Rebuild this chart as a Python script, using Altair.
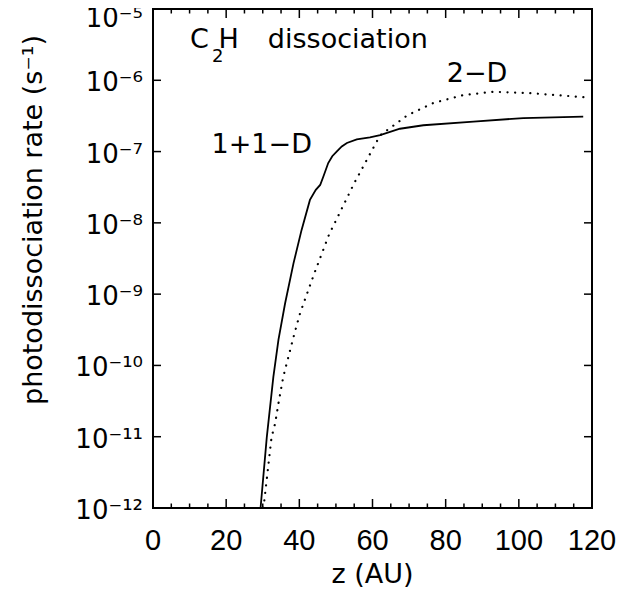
import altair as alt
import pandas as pd

# 1+1-D curve (solid)
z_11d = [29.4, 31.1, 32.9, 34.3, 36.1, 38.4, 40.6, 42.9, 44.5, 45.7, 46.6, 47.9,
         49.0, 50.2, 51.6, 53.0, 55.7, 59.3, 62.1, 67.5, 73.9, 87.6, 101.2, 117.6]
rate_11d = [1.0e-12, 9.8e-12, 6.9e-11, 2.3e-10, 7.4e-10, 2.7e-9, 7.9e-9, 2.1e-8,
            2.9e-8, 3.4e-8, 4.5e-8, 6.9e-8, 8.6e-8, 1.0e-7, 1.18e-7, 1.32e-7,
            1.48e-7, 1.58e-7, 1.70e-7, 2.09e-7, 2.34e-7, 2.63e-7, 2.95e-7, 3.09e-7]

# 2-D curve (dotted)
z_2d = [30.2, 32.4, 33.4, 34.3, 35.6, 38.4, 40.2, 44.0, 48.1, 55.0, 62.1, 66.6,
        69.4, 76.6, 84.8, 93.0, 103.1, 118.6]
rate_2d = [1.0e-12, 9.8e-12, 1.55e-11, 2.95e-11, 6.9e-11, 2.5e-10, 5.4e-10, 1.9e-9,
           6.8e-9, 3.6e-8, 1.70e-7, 2.5e-7, 3.2e-7, 4.8e-7, 6.2e-7, 6.9e-7,
           6.6e-7, 5.75e-7]

x_major = [0, 20, 40, 60, 80, 100, 120]
x_major_labels = ["0", "20", "40", "60", "80", "100", "120"]
x_minor = [v for v in range(0, 121, 5) if v % 20 != 0]
y_ticks = [1e-5, 1e-6, 1e-7, 1e-8, 1e-9, 1e-10, 1e-11, 1e-12]
y_tick_labels = ["10⁻⁵", "10⁻⁶", "10⁻⁷", "10⁻⁸", "10⁻⁹", "10⁻¹⁰", "10⁻¹¹", "10⁻¹²"]
x_title = "z (AU)"
y_title = "photodissociation rate (s⁻¹)"

# annotations (data coordinates)
ann_text = ["C", "H", "dissociation", "1+1−D", "2−D"]
ann_z = [10.1, 17.9, 31.4, 16.0, 80.3]
ann_rate = [2.8e-6, 2.8e-6, 2.8e-6, 9.5e-8, 9.5e-7]
sub_text = ["2"]
sub_z = [16.1]
sub_rate = [1.8e-6]

W, H = 439, 499
TXT = "DejaVu Sans"
NUM = "Liberation Sans"

xs = alt.Scale(domain=[0, 120], nice=False, zero=False)
ys = alt.Scale(type="log", domain=[1e-12, 1e-5], nice=False)


def X(f):
    return alt.X(f, scale=xs, axis=None)


def Y(f):
    return alt.Y(f, scale=ys, axis=None)


df1 = pd.DataFrame({"z": z_11d, "rate": rate_11d})
df2 = pd.DataFrame({"z": z_2d, "rate": rate_2d})

solid = alt.Chart(df1).mark_line(color="black", strokeWidth=1.8, clip=True).encode(
    x=X("z:Q"), y=Y("rate:Q"))

dotted = alt.Chart(df2).mark_line(color="black", strokeWidth=2.2, strokeDash=[0.1, 7.5],
                                  strokeCap="round", clip=True).encode(
    x=X("z:Q"), y=Y("rate:Q"))


def xticks(vals, length):
    d = pd.DataFrame({"v": vals})
    b = alt.Chart(d).mark_tick(color="black", thickness=1.5, size=length,
                               orient="vertical", opacity=1).encode(
        x=X("v:Q"), y=alt.value(H - length / 2))
    t = alt.Chart(d).mark_tick(color="black", thickness=1.5, size=length,
                               orient="vertical", opacity=1).encode(
        x=X("v:Q"), y=alt.value(length / 2))
    return b + t


yd = pd.DataFrame({"v": y_ticks, "lab": y_tick_labels})
ytl = alt.Chart(yd).mark_tick(color="black", thickness=1.5, size=8,
                              orient="horizontal", opacity=1).encode(
    y=Y("v:Q"), x=alt.value(4))
ytr = alt.Chart(yd).mark_tick(color="black", thickness=1.5, size=8,
                              orient="horizontal", opacity=1).encode(
    y=Y("v:Q"), x=alt.value(W - 4))

# tick labels
xlab = alt.Chart(pd.DataFrame({"v": x_major, "lab": x_major_labels})).mark_text(
    font=NUM, fontSize=29, color="black", align="center", baseline="top").encode(
    x=X("v:Q"), y=alt.value(H + 19), text="lab:N")
ylab = alt.Chart(yd.iloc[1:]).mark_text(
    font=TXT, fontSize=26, color="black", align="right", baseline="middle",
    dy=3).encode(x=alt.value(-10), y=Y("v:Q"), text="lab:N")
ylab_top = alt.Chart(yd.iloc[:1]).mark_text(
    font=TXT, fontSize=26, color="black", align="right", baseline="middle",
    dy=10).encode(x=alt.value(-10), y=Y("v:Q"), text="lab:N")

# axis titles
xtit = alt.Chart(pd.DataFrame({"t": [x_title]})).mark_text(
    font=TXT, fontSize=27, color="black", align="center", baseline="alphabetic").encode(
    x=alt.value(W / 2), y=alt.value(H + 75), text="t:N")
ytit = alt.Chart(pd.DataFrame({"t": [y_title]})).mark_text(
    font=TXT, fontSize=27, color="black", align="center", baseline="alphabetic",
    angle=270).encode(x=alt.value(-111), y=alt.value(211), text="t:N")

ann = alt.Chart(pd.DataFrame({"z": ann_z, "rate": ann_rate, "t": ann_text})).mark_text(
    font=TXT, fontSize=27, color="black", align="left", baseline="alphabetic").encode(
    x=X("z:Q"), y=Y("rate:Q"), text="t:N")
sub = alt.Chart(pd.DataFrame({"z": sub_z, "rate": sub_rate, "t": sub_text})).mark_text(
    font=TXT, fontSize=18, color="black", align="left", baseline="alphabetic").encode(
    x=X("z:Q"), y=Y("rate:Q"), text="t:N")

chart = alt.layer(
    solid, dotted, xticks(x_major, 9), xticks(x_minor, 4.5), ytl, ytr,
    xlab, ylab, ylab_top, xtit, ytit, ann, sub
).properties(
    width=W, height=H,
    autosize=alt.AutoSizeParams(type="none"),
    padding={"left": 145, "top": 1, "right": 26, "bottom": 80},
    background="white",
).configure_view(stroke="black", strokeWidth=2)

chart.save("out.html", embed_options={"renderer": "svg", "actions": False})
